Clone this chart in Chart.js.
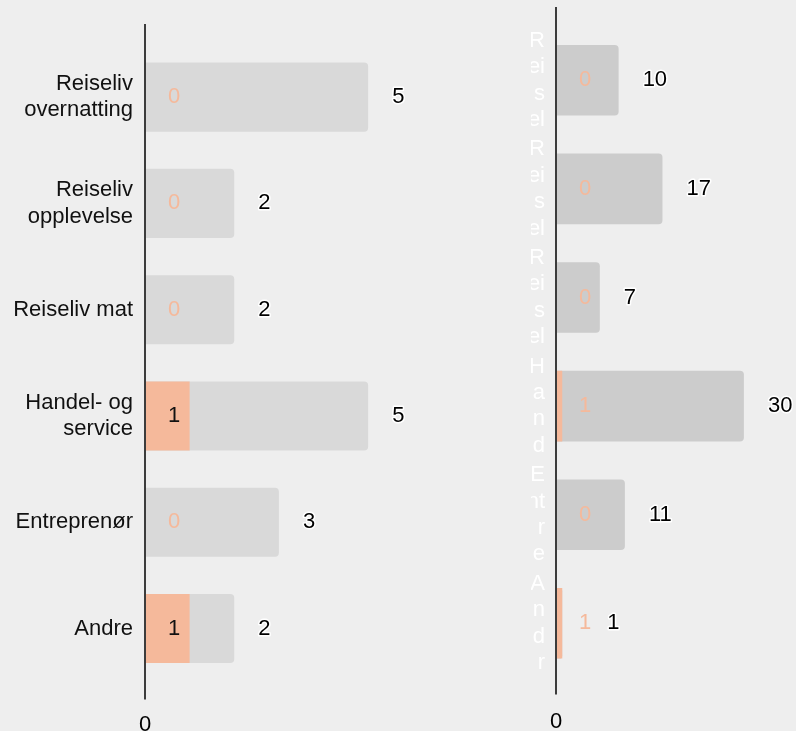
<!DOCTYPE html>
<html>
<head>
<meta charset="utf-8">
<script src="https://cdn.jsdelivr.net/npm/chart.js@4"></script>
<style>
  html, body { margin: 0; padding: 0; background: #eeeeee; overflow: hidden; }
  #left { position: absolute; left: 0; top: 0; width: 531px; height: 770px; }
  #right { position: absolute; left: 531px; top: 0; width: 265px; height: 770px; }
</style>
</head>
<body>
<div id="left"><canvas id="leftChart"></canvas></div>
<div id="right"><canvas id="rightChart"></canvas></div>
<script>
// categories (left chart labels, wrapped as shown)
const categories = [
  ['Reiseliv', 'overnatting'],
  ['Reiseliv', 'opplevelse'],
  'Reiseliv mat',
  ['Handel- og', 'service'],
  'Entreprenør',
  'Andre'
];
// right chart tick labels, as they appear (narrow, cut to 4 lines)
const rightTickLabels = [
  ['R', 'ei', 's', 'el'],
  ['R', 'ei', 's', 'el'],
  ['R', 'ei', 's', 'el'],
  ['H', 'a', 'n', 'd'],
  ['E', 'nt', 'r', 'e'],
  ['A', 'n', 'd', 'r']
];
const leftTotal = [5, 2, 2, 5, 3, 2];
const leftPart = [0, 0, 0, 1, 0, 1];
const rightTotal = [10, 17, 7, 30, 11, 1];
const rightPart = [0, 0, 0, 1, 0, 1];

const FONT = '"Liberation Sans", Arial, sans-serif';
const ORANGE = '#f5b99b';

// vertical axis line, a bit longer than the plot area
const axisLine = {
  id: 'axisLine',
  afterDraw(chart, args, opts) {
    const { ctx, chartArea } = chart;
    ctx.save();
    ctx.strokeStyle = '#3c3c3c';
    ctx.lineWidth = 2;
    ctx.beginPath();
    ctx.moveTo(chartArea.left, chartArea.top - opts.above);
    ctx.lineTo(chartArea.left, chartArea.bottom + opts.below);
    ctx.stroke();
    ctx.restore();
  }
};

// value labels: part value near the axis, total value after the bar
const valueLabels = {
  id: 'valueLabels',
  afterDatasetsDraw(chart) {
    const ctx = chart.ctx;
    const x0 = chart.scales.x.getPixelForValue(0);
    const part = chart.getDatasetMeta(0);
    const total = chart.getDatasetMeta(1);
    ctx.save();
    ctx.font = '22px ' + FONT;
    ctx.textBaseline = 'middle';
    ctx.textAlign = 'left';
    part.data.forEach((bar, i) => {
      const txt = String(chart.data.datasets[0].data[i]);
      const w = ctx.measureText(txt).width;
      const lx = x0 + 23;
      ctx.fillStyle = bar.x > lx + w ? '#111111' : ORANGE;
      ctx.fillText(txt, lx, bar.y);

      const tb = total.data[i];
      const ttxt = String(chart.data.datasets[1].data[i]);
      const tx = Math.max(tb.x + 24, lx + w + 16);
      ctx.lineWidth = 3;
      ctx.lineJoin = 'round';
      ctx.strokeStyle = '#ffffff';
      ctx.strokeText(ttxt, tx, tb.y);
      ctx.fillStyle = '#000000';
      ctx.fillText(ttxt, tx, tb.y);
    });
    ctx.restore();
  }
};

function makeChart(id, labels, part, total, cfg) {
  return new Chart(document.getElementById(id).getContext('2d'), {
    type: 'bar',
    data: {
      labels: labels,
      datasets: [{
        data: part,
        backgroundColor: ORANGE,
        order: 0
      }, {
        data: total,
        backgroundColor: cfg.gray,
        borderRadius: 4,
        order: 1
      }]
    },
    options: {
      indexAxis: 'y',
      responsive: true,
      maintainAspectRatio: false,
      animation: false,
      layout: { padding: cfg.padding },
      datasets: { bar: { grouped: false, barPercentage: 0.65, categoryPercentage: 1 } },
      scales: {
        x: {
          min: 0,
          max: cfg.max,
          grid: { display: false, drawTicks: false },
          border: { display: false },
          afterBuildTicks: s => { s.ticks = [{ value: 0 }]; },
          afterFit: s => { s.paddingLeft = 0; s.paddingRight = 0; },
          ticks: { color: '#000000', padding: cfg.xPad, font: { size: 22, family: FONT } }
        },
        y: {
          grid: { display: false, drawTicks: false },
          border: { display: false },
          afterFit: s => { s.width = cfg.yWidth; s.paddingTop = 0; s.paddingBottom = 0; },
          ticks: { color: cfg.labelColor, padding: cfg.yPad, autoSkip: false, font: { size: 22, family: FONT } }
        }
      },
      plugins: {
        legend: { display: false },
        tooltip: { enabled: false },
        axisLine: { above: cfg.above, below: cfg.below }
      }
    },
    plugins: [axisLine, valueLabels]
  });
}

makeChart('leftChart', categories, leftPart, leftTotal, {
  gray: '#d9d9d9', max: 8, yWidth: 145, yPad: 12, xPad: 30,
  labelColor: '#111111',
  padding: { top: 44, right: 29, bottom: 2, left: 0 },
  above: 20, below: 18
});

makeChart('rightChart', rightTickLabels, rightPart, rightTotal, {
  gray: '#cccccc', max: 38, yWidth: 25, yPad: 11, xPad: 31,
  labelColor: '#ffffff',
  padding: { top: 26, right: 2, bottom: 4, left: 0 },
  above: 19, below: 17
});
</script>
</body>
</html>
